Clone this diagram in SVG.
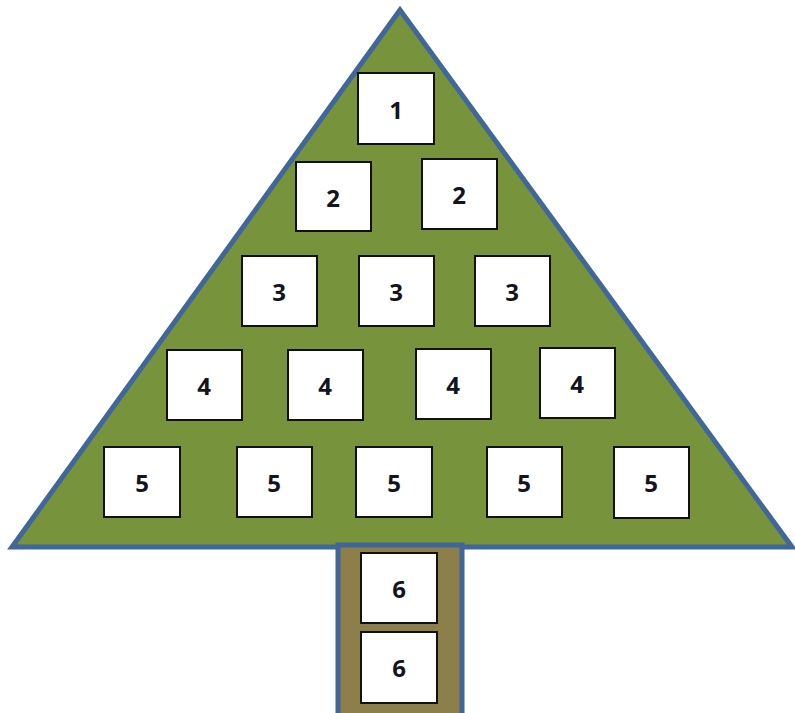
<svg xmlns="http://www.w3.org/2000/svg" width="795" height="713" viewBox="0 0 795 713">
<style>
.box rect{fill:#fff;stroke:#111;stroke-width:2}
.box text{font-family:"Open Sans","Liberation Sans",sans-serif;font-weight:bold;font-size:24px;fill:#141420;text-anchor:middle;dominant-baseline:central}
</style>
<rect width="795" height="713" fill="#fff"/>
<g id="tree">
<polygon points="400,10 12,547 792,547" fill="#77933c" stroke="#41679a" stroke-width="5" stroke-linejoin="miter"/>
</g>
<g id="trunk">
<rect x="338" y="545" width="124" height="172" fill="#8c7f4a" stroke="#41679a" stroke-width="5"/>
</g>
<g id="connectors"></g>
<g id="n1" class="box"><rect x="358" y="73" width="76" height="71"/><text x="396" y="109">1</text></g>
<g id="n2a" class="box"><rect x="296" y="162" width="75" height="69"/><text x="333" y="197">2</text></g>
<g id="n2b" class="box"><rect x="422" y="159" width="75" height="70"/><text x="459" y="194">2</text></g>
<g id="n3a" class="box"><rect x="242" y="256" width="75" height="70"/><text x="279" y="291">3</text></g>
<g id="n3b" class="box"><rect x="359" y="256" width="75" height="70"/><text x="396" y="291">3</text></g>
<g id="n3c" class="box"><rect x="475" y="256" width="75" height="70"/><text x="512" y="291">3</text></g>
<g id="n4a" class="box"><rect x="167" y="350" width="75" height="70"/><text x="204" y="385">4</text></g>
<g id="n4b" class="box"><rect x="288" y="350" width="75" height="70"/><text x="325" y="385">4</text></g>
<g id="n4c" class="box"><rect x="416" y="349" width="75" height="70"/><text x="453" y="384">4</text></g>
<g id="n4d" class="box"><rect x="540" y="348" width="75" height="70"/><text x="577" y="383">4</text></g>
<g id="n5a" class="box"><rect x="104" y="447" width="76" height="70"/><text x="142" y="482">5</text></g>
<g id="n5b" class="box"><rect x="237" y="447" width="75" height="70"/><text x="274" y="482">5</text></g>
<g id="n5c" class="box"><rect x="356" y="447" width="76" height="70"/><text x="394" y="482">5</text></g>
<g id="n5d" class="box"><rect x="487" y="447" width="75" height="70"/><text x="524" y="482">5</text></g>
<g id="n5e" class="box"><rect x="614" y="447" width="75" height="71"/><text x="651" y="482">5</text></g>
<g id="n6a" class="box"><rect x="361" y="553" width="76" height="70"/><text x="399" y="588">6</text></g>
<g id="n6b" class="box"><rect x="361" y="632" width="76" height="71"/><text x="399" y="667">6</text></g>
</svg>
